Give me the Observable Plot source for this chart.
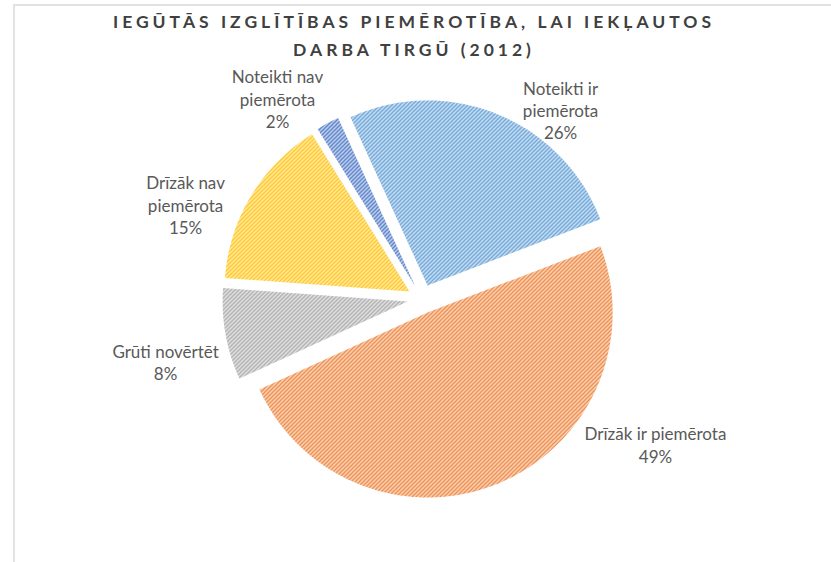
<!DOCTYPE html>
<html><head><meta charset="utf-8">
<script src="https://cdn.jsdelivr.net/npm/d3@7"></script>
<script src="https://cdn.jsdelivr.net/npm/@observablehq/plot@0.6"></script>
<style>
body{margin:0;background:#fff;}
#wrap{position:relative;width:831px;height:562px;overflow:hidden;font-family:Lato,"Open Sans",sans-serif;}
#chart{position:absolute;left:0;top:0;}
#frame{position:absolute;left:13px;top:4px;right:-4px;bottom:-4px;border-top:2px solid #e2e2e2;border-left:2px solid #e2e2e2;}
.t{position:absolute;left:0;width:828px;font-weight:bold;font-size:17.5px;letter-spacing:4px;color:#404040;white-space:nowrap;text-align:center;line-height:20px;}
</style></head><body>
<div id="wrap">
<div id="chart"></div>
<div id="frame"></div>
<div class="t" style="top:12px">IEGŪTĀS IZGLĪTĪBAS PIEMĒROTĪBA, LAI IEKĻAUTOS</div>
<div class="t" style="top:40px">DARBA TIRGŪ (2012)</div>
</div>
<script>
// ---- data ----
const categories = ["Noteikti ir piemērota", "Drīzāk ir piemērota", "Grūti novērtēt", "Drīzāk nav piemērota", "Noteikti nav piemērota"];
const labelLines = ["Noteikti ir\npiemērota", "Drīzāk ir piemērota", "Grūti novērtēt", "Drīzāk nav\npiemērota", "Noteikti nav\npiemērota"];
const shares = [26, 49, 8, 15, 2];
const colors = ["#5B9BD5", "#ED7D31", "#A5A5A5", "#FFC000", "#4472C4"];

// ---- layout ----
const W = 831, H = 562, CX = 421.5, CY = 298.5, R = 185;
const firstSliceAngle = 335.4;   // degrees clockwise from 12 o'clock
const explode = 0.079;           // fraction of radius
const labelPos = [[0.749, 1.02], [1.262, -0.786], [-1.386, -0.338], [-1.278, 0.511], [-0.781, 1.084]];

const rad = d => d * Math.PI / 180;
const arcs = d3.pie().sort(null).value(d => d)
  .startAngle(rad(firstSliceAngle)).endAngle(rad(firstSliceAngle) + 2 * Math.PI)(shares);

const polys = [];
arcs.forEach((a, i) => {
  const mid = (a.startAngle + a.endAngle) / 2;
  const ox = explode * Math.sin(mid), oy = explode * Math.cos(mid);
  const pat = `url(#pat${i})`;
  polys.push({key: categories[i], pat, x: ox, y: oy});
  const n = Math.max(4, Math.ceil((a.endAngle - a.startAngle) / rad(1)));
  for (let k = 0; k <= n; k++) {
    const t = a.startAngle + (a.endAngle - a.startAngle) * k / n;
    polys.push({key: categories[i], pat, x: ox + Math.sin(t), y: oy + Math.cos(t)});
  }
  polys.push({key: categories[i], pat, x: ox, y: oy});
});

const labels = categories.map((c, i) => ({
  text: labelLines[i] + "\n" + shares[i] + "%",
  x: labelPos[i][0], y: labelPos[i][1]
}));

const svg = Plot.plot({
  width: W, height: H,
  margin: 0,
  style: {background: "transparent", fontFamily: "Lato, 'Open Sans', sans-serif"},
  x: {type: "linear", domain: [-CX / R, (W - CX) / R], range: [0, W], axis: null},
  y: {type: "linear", domain: [-(H - CY) / R, CY / R], range: [H, 0], axis: null},
  color: {type: "identity"},
  marks: [
    Plot.line(polys, {x: "x", y: "y", z: "key", fill: "pat", stroke: "none", curve: "linear"}),
    Plot.text(labels, {x: "x", y: "y", text: "text", textAnchor: "middle", lineAnchor: "middle",
      lineHeight: 1.3, fontSize: 17, fill: "#595959"})
  ]
});

const defs = d3.select(svg).insert("defs", ":first-child");
colors.forEach((c, i) => {
  const p = defs.append("pattern").attr("id", "pat" + i)
    .attr("patternUnits", "userSpaceOnUse").attr("width", 4).attr("height", 4);
  p.append("rect").attr("width", 4).attr("height", 4).attr("fill", "#fff");
  p.append("path").attr("d", "M-1,1L1,-1M0,4L4,0M3,5L5,3")
    .attr("stroke", c).attr("stroke-width", 1.6);
});

document.getElementById("chart").appendChild(svg);
</script>
</body></html>
